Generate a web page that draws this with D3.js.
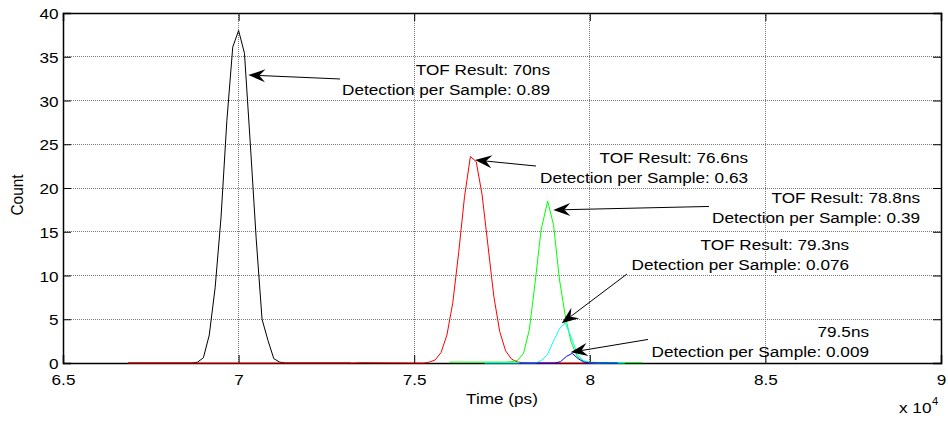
<!DOCTYPE html>
<html>
<head>
<meta charset="utf-8">
<script src="https://cdn.jsdelivr.net/npm/d3@7"></script>
<style>
  body { margin: 0; background: #fff; }
  svg text { font-family: "Liberation Sans", Arial, Helvetica, sans-serif; fill: #000; }
</style>
</head>
<body>
<svg id="chart" width="948" height="426"></svg>
<script>
// ---- tick values ----
const xTicks = [65000, 70000, 75000, 80000, 85000, 90000];
const yTicks = [0, 5, 10, 15, 20, 25, 30, 35, 40];

// ---- histogram series: time (ps) and count ----
const blackTime  = [66850, 68664, 68831, 68998, 69165, 69332, 69499, 69666, 69833, 70000, 70167, 70334, 70501, 70668, 70835, 71002, 71169, 71336, 73200];
const blackCount = [0, 0, 0.1, 0.6, 3.2, 8.6, 16.6, 27.7, 36.1, 38.0, 35.4, 25.0, 14.2, 5.0, 2.6, 0.5, 0.1, 0, 0];

const redTime  = [66850, 73200, 73500, 75264, 75431, 75598, 75765, 75932, 76099, 76266, 76433, 76600, 76767, 76934, 77101, 77268, 77435, 77602, 77769, 77936, 78103, 78300, 80300];
const redCount = [0, 0, 0.05, 0, 0.1, 0.35, 1.2, 3.2, 6.9, 12.6, 19.0, 23.6, 23.0, 19.2, 13.4, 7.6, 3.6, 1.4, 0.45, 0.12, 0.03, 0, 0];

const greenTime  = [76000, 77400, 77611, 77778, 77945, 78112, 78279, 78446, 78613, 78800, 78967, 79134, 79301, 79468, 79635, 79802, 79969, 80300, 81500];
const greenCount = [0.1, 0.1, 0.1, 0.15, 0.3, 1.1, 3.8, 9.3, 15.2, 18.5, 15.8, 9.6, 5.4, 2.4, 0.8, 0.25, 0.1, 0.05, 0.05];

const cyanTime  = [77000, 78465, 78632, 78799, 78966, 79133, 79300, 79467, 79634, 79801, 79968, 80200, 81000];
const cyanCount = [0, 0, 0.3, 1.0, 2.5, 3.9, 4.6, 3.0, 1.1, 0.3, 0.05, 0, 0];

const blueTime  = [78000, 78999, 79166, 79333, 79500, 79667, 79834, 80001, 80800];
const blueCount = [0, 0, 0.15, 0.75, 1.1, 0.5, 0.1, 0.02, 0];

const seriesColors = ["#000000", "#ff0000", "#00ff00", "#00ffff", "#0000ff"];

// ---- annotation texts, arrow head/tail and text anchor in data units ----
const annLines = [
  ["TOF Result: 70ns",   "Detection per Sample: 0.89"],
  ["TOF Result: 76.6ns", "Detection per Sample: 0.63"],
  ["TOF Result: 78.8ns", "Detection per Sample: 0.39"],
  ["TOF Result: 79.3ns", "Detection per Sample: 0.076"],
  ["79.5ns",             "Detection per Sample: 0.009"]
];
const annHead = [[70276, 32.91], [76731, 23.2], [78961, 17.49], [79200, 4.54], [79456, 1.22]];
const annTail = [[72887, 32.46], [78470, 22.51], [83394, 17.89], [81059, 10.17], [81657, 2.69]];
const annText = [[78867, 32.91], [84505, 22.91], [89402, 18.29], [87381, 12.91], [87950, 2.97]];

// ---- layout ----
const W = 948, H = 426;
const plot = { left: 63, top: 13, right: 941, bottom: 363 };
const SX = 1.115;          // horizontal stretch applied to all lettering
const FS = 15.4;           // font size, px
const LINE_GAP = 20.3;     // distance between annotation baselines

const svg = d3.select("#chart");

const x = d3.scaleLinear().domain([65000, 90000]).range([plot.left, plot.right]);
const y = d3.scaleLinear().domain([0, 40]).range([plot.bottom, plot.top]);

// grid
const grid = svg.append("g").attr("class", "grid");
grid.selectAll("line.gx").data(xTicks.slice(1, -1)).join("line")
  .attr("x1", d => x(d)).attr("x2", d => x(d))
  .attr("y1", plot.top).attr("y2", plot.bottom);
grid.selectAll("line.gy").data(yTicks.slice(1, -1)).join("line")
  .attr("x1", plot.left).attr("x2", plot.right)
  .attr("y1", d => y(d)).attr("y2", d => y(d));
grid.selectAll("line")
  .attr("stroke", "#7a7a7a").attr("stroke-width", 1)
  .attr("stroke-dasharray", "1,1").attr("shape-rendering", "crispEdges");

// axes (ticks pointing inward on all sides)
const TICK = 8;
const fmtX = d => d3.format("~g")(d / 1e4);

const axB = svg.append("g").attr("transform", `translate(0,${plot.bottom})`)
  .call(d3.axisBottom(x).tickValues(xTicks).tickSize(-TICK).tickPadding(14).tickFormat(fmtX));
const axT = svg.append("g").attr("transform", `translate(0,${plot.top})`)
  .call(d3.axisTop(x).tickValues(xTicks).tickSize(-TICK).tickFormat(""));
const axL = svg.append("g").attr("transform", `translate(${plot.left},0)`)
  .call(d3.axisLeft(y).tickValues(yTicks).tickSize(-TICK).tickPadding(4).tickFormat(d3.format("d")));
const axR = svg.append("g").attr("transform", `translate(${plot.right},0)`)
  .call(d3.axisRight(y).tickValues(yTicks).tickSize(-TICK).tickFormat(""));

[axB, axT, axL, axR].forEach(a => {
  a.select(".domain").attr("stroke", "#000").attr("stroke-width", 1.5);
  a.selectAll(".tick line").attr("stroke", "#000").attr("stroke-width", 1);
  a.selectAll(".tick text").attr("font-size", FS).attr("font-family", null);
});
axB.selectAll(".tick text").attr("dy", null).attr("y", 22)
  .attr("transform", `scale(${SX},1)`);
axL.selectAll(".tick text").attr("dy", null).attr("x", -4.5 / SX).attr("y", 5.5)
  .attr("transform", `scale(${SX},1)`);

// data lines
const seriesList = [
  [blackTime, blackCount], [redTime, redCount], [greenTime, greenCount],
  [cyanTime, cyanCount], [blueTime, blueCount]
];
const line = d3.line().x(d => x(d[0])).y(d => y(d[1]));
const lines = svg.append("g").attr("class", "series");
seriesList.forEach(([t, c], i) => {
  lines.append("path")
    .datum(t.map((v, j) => [v, c[j]]))
    .attr("d", line)
    .attr("fill", "none")
    .attr("stroke", seriesColors[i])
    .attr("stroke-width", 1)
    .attr("stroke-linejoin", "round");
});

// stretched text helper
function label(g, txt, px, py, anchor, size, extra) {
  return g.append("text")
    .attr("transform", `translate(${px},${py}) scale(${SX},1)` + (extra || ""))
    .attr("text-anchor", anchor)
    .attr("font-size", size)
    .text(txt);
}

// axis titles
const titles = svg.append("g");
label(titles, "Time (ps)", (plot.left + plot.right) / 2, 404, "middle", FS);
label(titles, "Count", 23, (plot.top + plot.bottom) / 2 + 7, "middle", FS, " rotate(-90)");
label(titles, "x 10", 899, 413, "start", FS);
label(titles, "4", 932, 405, "start", 10);

// annotations: arrow from tail to head, two-line text block right aligned
const ann = svg.append("g").attr("class", "annotations");
annLines.forEach((lns, i) => {
  const hx = x(annHead[i][0]), hy = y(annHead[i][1]);
  const tx = x(annTail[i][0]), ty = y(annTail[i][1]);
  const ang = Math.atan2(hy - ty, hx - tx);
  const L = 17, Wd = 6.5, N = 11;
  const bx = hx - (N) * Math.cos(ang), by = hy - (N) * Math.sin(ang);
  ann.append("line")
    .attr("x1", tx).attr("y1", ty).attr("x2", bx).attr("y2", by)
    .attr("stroke", "#000").attr("stroke-width", 1);
  const deg = ang * 180 / Math.PI;
  ann.append("path")
    .attr("transform", `translate(${hx},${hy}) rotate(${deg})`)
    .attr("d", `M0,0 L${-L},${-Wd} L${-N},0 L${-L},${Wd} Z`)
    .attr("fill", "#000");
  const rx = x(annText[i][0]), b1 = y(annText[i][1]);
  lns.forEach((s, k) => label(ann, s, rx, b1 + k * LINE_GAP, "end", FS));
});
</script>
</body>
</html>
